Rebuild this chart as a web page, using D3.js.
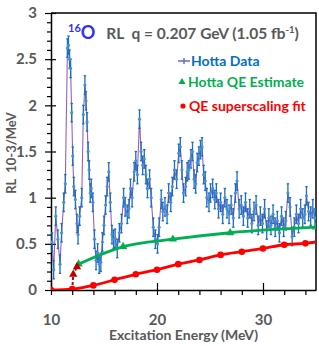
<!DOCTYPE html>
<html>
<head>
<meta charset="utf-8">
<script src="https://cdn.jsdelivr.net/npm/d3@7"></script>
<style>
body { margin: 0; background: #fff; }
#chart text { font-family: Lato, "Open Sans", sans-serif; font-weight: bold; }
</style>
</head>
<body>
<div id="chart"></div>
<script>
// Hotta (e,e') data, excitation energy (MeV) and RL (10-3/MeV)
var hottaE = [10.10, 10.25, 10.45, 10.65, 10.85, 11.00, 11.20, 11.35, 11.55, 11.65,
    11.75, 11.85, 11.95, 12.05, 12.15, 12.30, 12.45, 12.55, 12.70, 12.90,
    13.05, 13.20, 13.30, 13.40, 13.50, 13.60, 13.70, 13.80, 13.95, 14.10,
    14.25, 14.40, 14.55, 14.70, 14.85, 15.00, 15.15, 15.30, 15.45, 15.60,
    15.75, 15.90, 16.05, 16.25, 16.45, 16.65, 16.85, 17.00, 17.20, 17.35,
    17.50, 17.65, 17.85, 18.00, 18.15, 18.35, 18.50, 18.65, 18.80, 18.95,
    19.10, 19.30, 19.45, 19.65, 19.85, 20.05, 20.20, 20.40, 20.55, 20.75,
    20.95, 21.10, 21.30, 21.45, 21.65, 21.85, 22.05, 22.20, 22.35, 22.50,
    22.70, 22.85, 23.00, 23.20, 23.35, 23.50, 23.65, 23.80, 23.95, 24.10,
    24.25, 24.40, 24.55, 24.70, 24.90, 25.05, 25.25, 25.45, 25.60, 25.80,
    26.00, 26.20, 26.40, 26.60, 26.80, 27.00, 27.20, 27.40, 27.55, 27.75,
    27.95, 28.15, 28.35, 28.55, 28.75, 28.95, 29.15, 29.35, 29.55, 29.75,
    29.95, 30.15, 30.35, 30.55, 30.75, 30.95, 31.15, 31.35, 31.55, 31.75,
    31.95, 32.15, 32.35, 32.55, 32.75, 32.95, 33.15, 33.35, 33.55, 33.75,
    33.95, 34.10, 34.30, 34.50, 34.70, 34.90];
var hottaV = [0.52, 0.22, 0.80, 0.55, 0.28, 0.62, 0.95, 1.15, 2.62, 2.65,
    2.50, 2.40, 1.92, 1.45, 1.12, 0.98, 0.72, 0.60, 0.80, 1.00,
    1.90, 2.22, 2.05, 1.82, 1.50, 1.30, 1.05, 1.10, 0.95, 0.55,
    0.32, 0.40, 0.28, 0.30, 0.52, 0.70, 0.92, 1.12, 1.28, 0.95,
    0.60, 0.55, 0.56, 0.45, 0.62, 0.72, 1.00, 0.90, 0.82, 0.88,
    1.10, 1.00, 1.28, 1.40, 1.25, 1.85, 1.50, 1.35, 1.42, 1.25,
    1.10, 1.20, 1.00, 0.68, 0.55, 0.50, 0.68, 0.98, 0.85, 0.90,
    0.82, 1.05, 0.95, 1.12, 1.30, 1.20, 1.48, 1.55, 1.30, 1.05,
    1.12, 1.28, 1.30, 1.42, 1.50, 1.20, 1.15, 1.38, 1.45, 1.52,
    1.55, 1.25, 1.18, 1.00, 0.95, 1.05, 1.10, 0.98, 1.05, 0.88,
    0.95, 0.82, 1.00, 0.88, 0.82, 0.92, 0.78, 1.05, 1.18, 0.88,
    0.92, 0.80, 0.95, 0.78, 0.88, 0.72, 0.85, 0.92, 0.70, 0.80,
    0.72, 0.88, 0.65, 0.78, 0.70, 0.82, 0.68, 0.75, 0.62, 0.80,
    0.68, 0.75, 1.05, 0.90, 0.58, 0.68, 0.82, 0.72, 0.88, 0.78,
    0.82, 1.02, 0.85, 0.80, 0.88, 0.78];
var hottaErr = 0.1;

// Hotta QE estimate (green)
var qeE = [12.6, 16.8, 21.5, 26.9, 35];
var qeV = [0.28, 0.47, 0.55, 0.62, 0.68];

// threshold part of the QE estimate (dark red, dashed)
var threshE = [12.0, 12.1, 12.45, 12.6];
var threshV = [0, 0.17, 0.25, 0.28];

// QE superscaling fit (red)
var fitE = [10, 12, 14, 16, 18, 20, 22, 24, 26, 28, 30, 32, 34, 35];
var fitV = [0, 0.01, 0.05, 0.11, 0.17, 0.22, 0.28, 0.325, 0.38, 0.415, 0.45, 0.49, 0.505, 0.52];

var xTicks = [10, 20, 30];
var yTicks = [0, 0.5, 1, 1.5, 2, 2.5, 3];
var legendLabels = ["Hotta Data", "Hotta QE Estimate", "QE superscaling fit"];
var legendColors = ["#0070C0", "#00B050", "#FF0000"];

var width = 319;
var height = 346;
var plotLeft = 51;
var plotRight = 316;
var plotTop = 13;
var plotBottom = 290;
var textGray = "#595959";

var svg = d3.select("#chart")
    .append("svg")
    .attr("width", width)
    .attr("height", height);

var xScale = d3.scaleLinear().domain([10, 35]).range([plotLeft, plotRight]);
var yScale = d3.scaleLinear().domain([0, 3]).range([plotBottom, plotTop]);

svg.append("clipPath").attr("id", "plotClip")
    .append("rect")
    .attr("x", plotLeft).attr("y", plotTop)
    .attr("width", plotRight - plotLeft).attr("height", plotBottom - plotTop);

// minor ticks, outside only
var xMinor = d3.range(12, 35, 2).filter(function (d) { return d % 10 != 0; });
var yMinor = d3.range(0.1, 3, 0.1).filter(function (d) { return Math.abs(d * 2 - Math.round(d * 2)) > 0.01; });

svg.append("g")
    .attr("transform", `translate(0, ${plotBottom})`)
    .call(d3.axisBottom(xScale).tickValues(xMinor).tickSize(5).tickFormat(""))
    .call(function (g) { g.select(".domain").remove(); });

svg.append("g")
    .attr("transform", `translate(${plotLeft}, 0)`)
    .call(d3.axisLeft(yScale).tickValues(yMinor).tickSize(4).tickFormat(""))
    .call(function (g) { g.select(".domain").remove(); });

// major axes
var xAxis = svg.append("g")
    .attr("transform", `translate(0, ${plotBottom})`)
    .call(d3.axisBottom(xScale).tickValues(xTicks).tickSize(5).tickPadding(19).tickSizeOuter(0));
xAxis.selectAll(".tick line").attr("y1", -7);

var yAxis = svg.append("g")
    .attr("transform", `translate(${plotLeft}, 0)`)
    .call(d3.axisLeft(yScale).tickValues(yTicks).tickSize(6).tickPadding(8).tickSizeOuter(0)
        .tickFormat(function (d) { return String(d); }));
yAxis.selectAll(".tick line").attr("x1", 5);

svg.selectAll(".domain").attr("stroke", "#000").attr("stroke-width", 1.5);
svg.selectAll(".tick line").attr("stroke", "#000").attr("stroke-width", 1.2);
svg.selectAll(".tick text")
    .attr("fill", textGray)
    .attr("font-size", 15);

// top and right border
svg.append("path")
    .attr("d", `M${plotLeft},${plotTop}H${plotRight}V${plotBottom}`)
    .attr("fill", "none")
    .attr("stroke", "#000")
    .attr("stroke-width", 1.5);

var plot = svg.append("g").attr("clip-path", "url(#plotClip)");

// Hotta data: purple line, blue error bars and points
var hotta = hottaE.map(function (e, i) { return { e: e, v: hottaV[i] }; });

var lineGen = d3.line()
    .x(function (d) { return xScale(d.e); })
    .y(function (d) { return yScale(d.v); });

plot.append("path")
    .datum(hotta)
    .attr("d", lineGen)
    .attr("fill", "none")
    .attr("stroke", "#7030A0")
    .attr("stroke-opacity", 0.75)
    .attr("stroke-width", 1.1);

var bars = plot.selectAll("g.errBar").data(hotta).enter()
    .append("g").attr("class", "errBar")
    .attr("stroke", "#1C6EC0")
    .attr("stroke-width", 1.3);
bars.append("line")
    .attr("x1", function (d) { return xScale(d.e); })
    .attr("x2", function (d) { return xScale(d.e); })
    .attr("y1", function (d) { return yScale(d.v - hottaErr); })
    .attr("y2", function (d) { return yScale(d.v + hottaErr); });
[-1, 1].forEach(function (s) {
    bars.append("line")
        .attr("x1", function (d) { return xScale(d.e) - 1.2; })
        .attr("x2", function (d) { return xScale(d.e) + 1.2; })
        .attr("y1", function (d) { return yScale(d.v + s * hottaErr); })
        .attr("y2", function (d) { return yScale(d.v + s * hottaErr); });
});

plot.selectAll("circle.hotta").data(hotta).enter()
    .append("circle")
    .attr("class", "hotta")
    .attr("cx", function (d) { return xScale(d.e); })
    .attr("cy", function (d) { return yScale(d.v); })
    .attr("r", 1.6)
    .attr("fill", "#4A8FD4");

// QE estimate
var qe = qeE.map(function (e, i) { return { e: e, v: qeV[i] }; });
var thresh = threshE.map(function (e, i) { return { e: e, v: threshV[i] }; });
var fit = fitE.map(function (e, i) { return { e: e, v: fitV[i] }; });

var smoothLine = d3.line()
    .x(function (d) { return xScale(d.e); })
    .y(function (d) { return yScale(d.v); })
    .curve(d3.curveMonotoneX);

plot.append("path")
    .datum(qe)
    .attr("d", smoothLine)
    .attr("fill", "none")
    .attr("stroke", "#00B050")
    .attr("stroke-width", 2.8);

var tri = d3.symbol().type(d3.symbolTriangle).size(30);
plot.selectAll("path.qeMark").data(qe).enter()
    .append("path")
    .attr("class", "qeMark")
    .attr("d", tri)
    .attr("transform", function (d) { return `translate(${xScale(d.e)}, ${yScale(d.v)})`; })
    .attr("fill", "#00B050");

plot.append("path")
    .datum(thresh)
    .attr("d", lineGen)
    .attr("fill", "none")
    .attr("stroke", "#C00000")
    .attr("stroke-width", 2)
    .attr("stroke-dasharray", "3,2");

plot.selectAll("path.threshMark").data(thresh.slice(1, 3)).enter()
    .append("path")
    .attr("class", "threshMark")
    .attr("d", tri)
    .attr("transform", function (d) { return `translate(${xScale(d.e)}, ${yScale(d.v)})`; })
    .attr("fill", "#C00000");

// superscaling fit
plot.append("path")
    .datum(fit)
    .attr("d", smoothLine)
    .attr("fill", "none")
    .attr("stroke", "#FF0000")
    .attr("stroke-width", 2.8);

plot.selectAll("circle.fit").data(fit.filter(function (d) { return d.e % 2 == 0; })).enter()
    .append("circle")
    .attr("class", "fit")
    .attr("cx", function (d) { return xScale(d.e); })
    .attr("cy", function (d) { return yScale(d.v); })
    .attr("r", 3.3)
    .attr("fill", "#FF0000");

// title
var title = svg.append("text")
    .attr("x", 68)
    .attr("y", 39)
    .attr("font-size", 15.5);
title.append("tspan").attr("fill", "#3333EE").attr("font-size", 11).attr("dy", -7).text("16");
title.append("tspan").attr("fill", "#3333EE").attr("font-size", 18).attr("dy", 7).text("O");
title.append("tspan").attr("fill", textGray).attr("dx", 11).text("RL  q = 0.207 GeV (1.05 fb");
title.append("tspan").attr("fill", textGray).attr("font-size", 9.5).attr("dy", -6).text("-1");
title.append("tspan").attr("fill", textGray).attr("dy", 6).text(")");
title.attr("xml:space", "preserve");

// legend
var legend = svg.append("g");
legend.append("line")
    .attr("x1", 178).attr("x2", 190).attr("y1", 61).attr("y2", 61)
    .attr("stroke", "#7030A0").attr("stroke-width", 1.2);
legend.append("line")
    .attr("x1", 184).attr("x2", 184).attr("y1", 58).attr("y2", 64)
    .attr("stroke", "#1C6EC0").attr("stroke-width", 1.2);
legend.append("circle").attr("cx", 184).attr("cy", 61).attr("r", 1.5).attr("fill", "#4A8FD4");
legend.append("path")
    .attr("d", d3.symbol().type(d3.symbolTriangle).size(22))
    .attr("transform", "translate(182, 82)")
    .attr("fill", "#00B050");
legend.append("circle").attr("cx", 183).attr("cy", 106).attr("r", 2.6).attr("fill", "#FF0000");

var legendX = [191, 188, 189];
var legendY = [66, 87, 111];
legend.selectAll("text").data(legendLabels).enter()
    .append("text")
    .attr("x", function (d, i) { return legendX[i]; })
    .attr("y", function (d, i) { return legendY[i]; })
    .attr("font-size", 14)
    .attr("fill", function (d, i) { return legendColors[i]; })
    .text(function (d) { return d; });

// axis titles
svg.append("text")
    .attr("x", (plotLeft + plotRight) / 2)
    .attr("y", 340)
    .attr("text-anchor", "middle")
    .attr("font-size", 14)
    .attr("fill", textGray)
    .text("Excitation Energy (MeV)");

svg.append("text")
    .attr("transform", "translate(16, 153) rotate(-90)")
    .attr("text-anchor", "middle")
    .attr("font-size", 13)
    .attr("fill", textGray)
    .attr("xml:space", "preserve")
    .text("RL  10-3/MeV");
</script>
</body>
</html>
